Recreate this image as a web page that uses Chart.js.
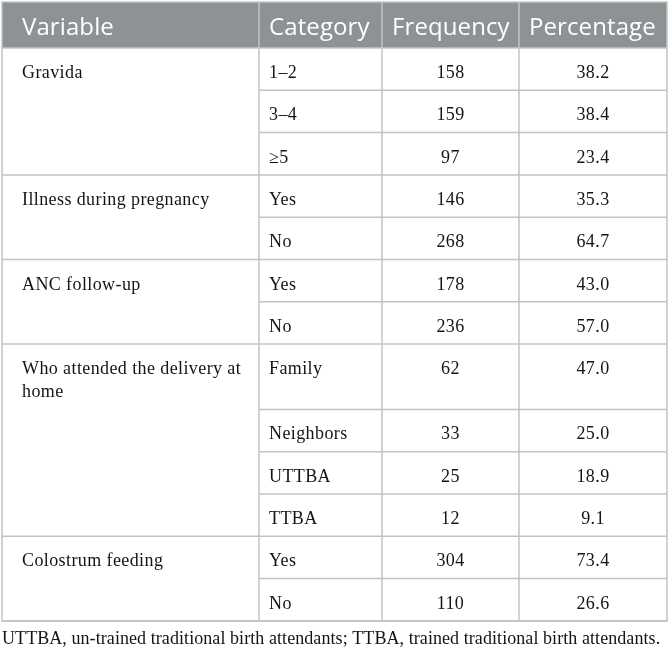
<!DOCTYPE html>
<html>
<head>
<meta charset="utf-8">
<script src="https://cdn.jsdelivr.net/npm/chart.js@4.4.1/dist/chart.umd.min.js"></script>
<style>
  html, body { margin: 0; padding: 0; background: #fff; }
  .chart-size { position: relative; width: 670px; height: 653px; }
</style>
</head>
<body>
<div class="chart-size"><canvas id="table"></canvas></div>
<script>
const headers = ["Variable", "Category", "Frequency", "Percentage"];
const variables = ["Gravida", "Illness during pregnancy", "ANC follow-up", "Who attended the delivery at home", "Colostrum feeding"];
const variableRows = [3, 2, 2, 4, 2];
const categories = ["1–2", "3–4", "≥5", "Yes", "No", "Yes", "No", "Family", "Neighbors", "UTTBA", "TTBA", "Yes", "No"];
const frequencies = [158, 159, 97, 146, 268, 178, 236, 62, 33, 25, 12, 304, 110];
const percentages = [38.2, 38.4, 23.4, 35.3, 64.7, 43.0, 57.0, 47.0, 25.0, 18.9, 9.1, 73.4, 26.6];
const footnote = "UTTBA, un-trained traditional birth attendants; TTBA, trained traditional birth attendants.";

// layout, in scale units (the scales below run 0..670 and 0..653)
const colEdges = [2, 259, 382, 519, 667];
const headerTop = 2;
const headerBottom = 48;
const rowHeight = 42.3;
const lineHeight = 23;
const bodyFont = "18px 'Liberation Serif'";
const headFont = "24px 'Open Sans'";
const lineColor = "#c3c3c3";

const tablePlugin = {
  id: "tablePlugin",
  afterDraw(chart) {
    const { ctx } = chart;
    const xs = chart.scales.x;
    const ys = chart.scales.y;
    const px = v => xs.getPixelForValue(v);
    const py = v => ys.getPixelForValue(v);

    // wrap variable labels to the first column
    ctx.font = bodyFont;
    ctx.letterSpacing = "0.4px";
    const maxW = colEdges[1] - colEdges[0] - 34;
    const wrapped = variables.map(label => {
      const lines = [];
      let cur = "";
      label.split(" ").forEach(w => {
        const test = cur ? cur + " " + w : w;
        if (cur && ctx.measureText(test).width > maxW) {
          lines.push(cur);
          cur = w;
        } else {
          cur = test;
        }
      });
      lines.push(cur);
      return lines;
    });

    // row tops
    const rowTops = [];
    let t = headerBottom;
    variableRows.forEach((n, g) => {
      for (let i = 0; i < n; i++) {
        rowTops.push(t);
        t += rowHeight + (i === 0 ? (wrapped[g].length - 1) * lineHeight : 0);
      }
    });
    const tableBottom = t;

    ctx.save();
    // header band
    ctx.fillStyle = "#8e9294";
    ctx.fillRect(px(colEdges[0]), py(headerTop), px(colEdges[4]) - px(colEdges[0]), py(headerBottom) - py(headerTop));

    ctx.strokeStyle = lineColor;
    ctx.lineWidth = 1.5;
    const hLine = (y0, x0, x1) => {
      ctx.beginPath();
      ctx.moveTo(px(x0), py(y0));
      ctx.lineTo(px(x1), py(y0));
      ctx.stroke();
    };
    const vLine = (x0, y0, y1) => {
      ctx.beginPath();
      ctx.moveTo(px(x0), py(y0));
      ctx.lineTo(px(x0), py(y1));
      ctx.stroke();
    };
    // outer border
    ctx.strokeRect(px(colEdges[0]), py(headerTop), px(colEdges[4]) - px(colEdges[0]), py(tableBottom) - py(headerTop));
    colEdges.slice(1, 4).forEach(c => vLine(c, headerTop, tableBottom));
    hLine(headerBottom, colEdges[0], colEdges[4]);

    // body rows
    let idx = 0;
    variableRows.forEach((n, g) => {
      const gTop = rowTops[idx];
      for (let i = 0; i < n; i++) {
        const top = rowTops[idx];
        const bottom = idx + 1 < rowTops.length ? rowTops[idx + 1] : tableBottom;
        hLine(bottom, i === n - 1 ? colEdges[0] : colEdges[1], colEdges[4]);
        ctx.fillStyle = "#141414";
        ctx.font = bodyFont;
        ctx.textBaseline = "alphabetic";
        ctx.textAlign = "left";
        ctx.fillText(categories[idx], px(colEdges[1] + 10), py(top + 30));
        ctx.textAlign = "center";
        ctx.fillText(String(frequencies[idx]), px((colEdges[2] + colEdges[3]) / 2), py(top + 30));
        ctx.fillText(percentages[idx].toFixed(1), px((colEdges[3] + colEdges[4]) / 2), py(top + 30));
        idx++;
      }
      ctx.textAlign = "left";
      wrapped[g].forEach((line, k) => {
        ctx.fillText(line, px(22), py(gTop + 30 + k * lineHeight));
      });
    });

    // header text
    ctx.letterSpacing = "0.1px";
    ctx.font = headFont;
    ctx.fillStyle = "#ffffff";
    ctx.textAlign = "left";
    headers.forEach((h, i) => {
      ctx.fillText(h, px(i === 0 ? 22 : colEdges[i] + 10), py(35));
    });

    // footnote
    ctx.font = bodyFont;
    ctx.letterSpacing = "0.07px";
    ctx.fillStyle = "#141414";
    ctx.fillText(footnote, px(2), py(tableBottom + 23));
    ctx.restore();
  }
};

new Chart(document.getElementById("table"), {
  type: "scatter",
  data: { datasets: [] },
  options: {
    responsive: true,
    maintainAspectRatio: false,
    animation: false,
    layout: { padding: 0 },
    plugins: { legend: { display: false }, tooltip: { enabled: false } },
    scales: {
      x: { type: "linear", min: 0, max: 670, display: false },
      y: { type: "linear", min: 0, max: 653, reverse: true, display: false }
    }
  },
  plugins: [tablePlugin]
});
</script>
</body>
</html>
